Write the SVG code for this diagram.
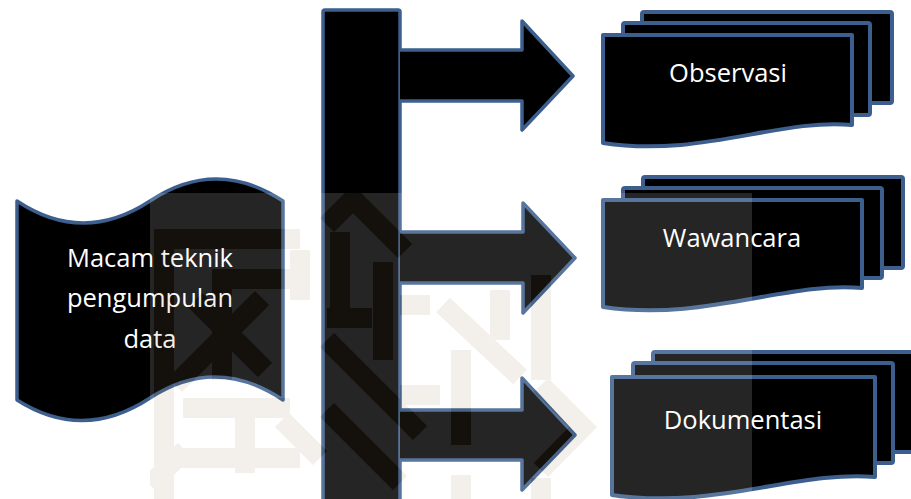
<svg xmlns="http://www.w3.org/2000/svg" xmlns:xlink="http://www.w3.org/1999/xlink" width="911" height="499" viewBox="0 0 911 499">
<style>
.shp{fill:#000;stroke:#3C5F8D;stroke-width:3.5;stroke-linejoin:round}
.card{fill:#000;stroke:#3C5F8D;stroke-width:4;stroke-linejoin:round}
.lbl{font-family:"Open Sans","Noto Sans","DejaVu Sans",sans-serif;font-size:25.5px;fill:#fff;text-anchor:middle}
</style>
<defs>
<g id="strips" fill="none" stroke-width="20" stroke-linecap="butt" stroke-linejoin="miter">
<path d="M164,499 V239 H300"/>
<path d="M222,380 V279 H300"/>
<path d="M175,385 L262,298"/>
<path d="M195,300 L265,370"/>
<path d="M300,250 V300"/>
<path d="M327,225 L353,199 L405,251"/>
<path d="M340,232 V320"/>
<path d="M383,262 V360"/>
<path d="M327,318 H372"/>
<path d="M327,340 L420,433"/>
<path d="M327,410 L400,483"/>
<path d="M443,305 L520,377"/>
<path d="M461,350 V445"/>
<path d="M461,475 V499"/>
<path d="M500,290 V340"/>
<path d="M541,275 V380"/>
<path d="M541,478 V499"/>
<path d="M541,385 L583,427 L541,470"/>
<path d="M400,395 H440"/>
<path d="M400,305 H430"/>
<path d="M183,408 H290"/>
<path d="M245,413 V473"/>
<path d="M170,458 H300"/>
<path d="M150,485 L185,450"/>
<path d="M282,420 L320,458"/>
</g>
<clipPath id="wmclip"><rect x="150" y="193" width="602" height="306"/></clipPath>
<mask id="wmmask"><rect x="150" y="193" width="602" height="306" fill="#fff"/><use xlink:href="#strips" stroke="#000"/></mask>
</defs>

<g id="source">
<path class="shp" d="M17,201 Q83,245 150,201 Q216,157 283,201 V400 Q216,355 150,398 Q83,442 17,400 Z"/>
<text class="lbl" x="150" y="267">Macam teknik</text>
<text class="lbl" x="150" y="307">pengumpulan</text>
<text class="lbl" x="150" y="348">data</text>
</g>

<g id="connectors">
<rect class="shp" x="323" y="10" width="77" height="500" rx="2"/>
<path class="shp" d="M400,50 H522 V21 L573,76 L522,130 V101 H400"/>
<path class="shp" d="M400,232 H523 V203 L575,258 L523,313 V283 H400"/>
<path class="shp" d="M400,410 H522 V378 L575,435 L522,490 V460 H400"/>
</g>

<g id="observasi">
<rect class="card" x="642" y="12" width="250" height="91" rx="2"/>
<rect class="card" x="623" y="23" width="247" height="92" rx="2"/>
<path class="card" d="M603,35 H852 V125 C780,118 700,158 603,143 Z"/>
<text class="lbl" x="728" y="82">Observasi</text>
</g>

<g id="wawancara">
<rect class="card" x="643" y="177" width="260" height="91" rx="2"/>
<rect class="card" x="623" y="188" width="259" height="90" rx="2"/>
<path class="card" d="M603,200 H862 V288 C787,281 704,322 603,307 Z"/>
<text class="lbl" x="732" y="247">Wawancara</text>
</g>

<g id="dokumentasi">
<rect class="card" x="653" y="352" width="270" height="100" rx="2"/>
<rect class="card" x="633" y="363" width="260" height="100" rx="2"/>
<path class="card" d="M612,377 H875 V477 C800,470 714,510 612,495 Z"/>
<text class="lbl" x="743" y="429">Dokumentasi</text>
</g>

<g id="watermark" clip-path="url(#wmclip)">
<rect x="150" y="193" width="602" height="306" fill="#fff" fill-opacity="0.145" mask="url(#wmmask)"/>
<g opacity="0.12"><use xlink:href="#strips" stroke="rgb(160,128,90)"/></g>
</g>
</svg>
